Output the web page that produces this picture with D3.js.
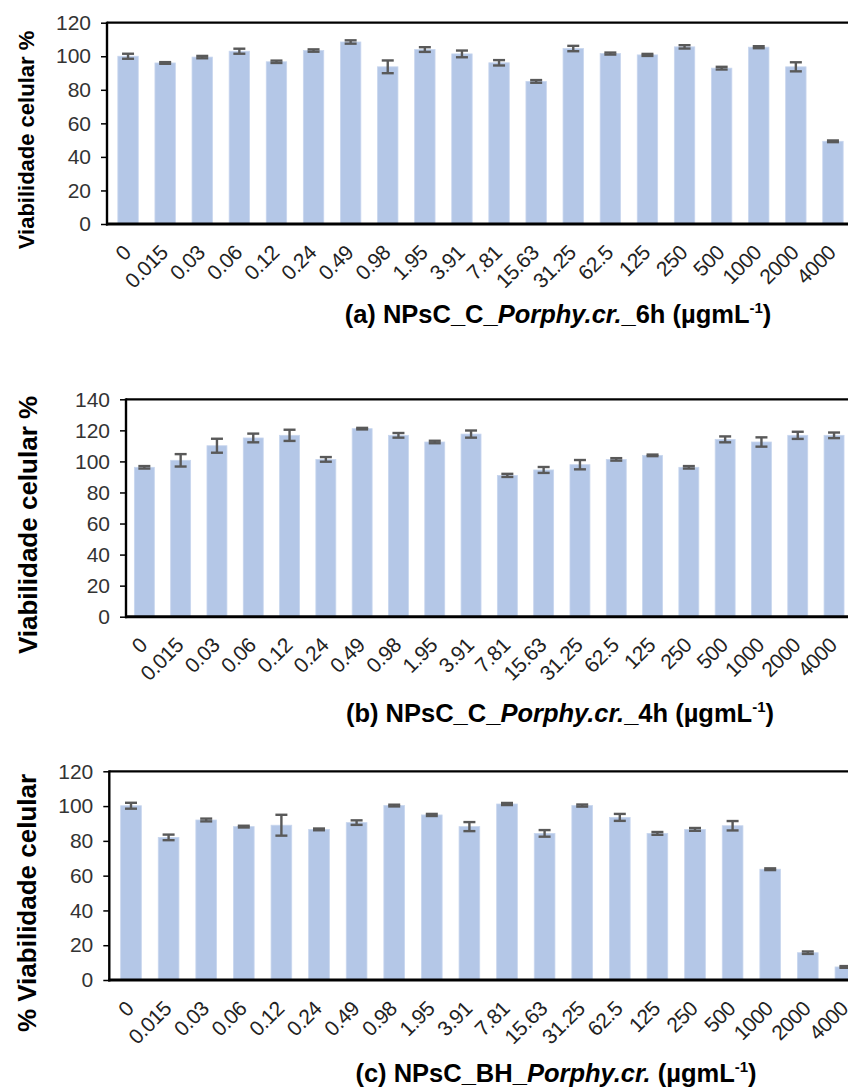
<!DOCTYPE html>
<html>
<head>
<meta charset="utf-8">
<script src="https://cdn.jsdelivr.net/npm/d3@7"></script>
<style>
  html, body { margin: 0; padding: 0; background: #fff; }
  svg { display: block; font-family: Arial, "Liberation Sans", sans-serif; }
</style>
</head>
<body>
<svg id="chart" width="848" height="1088"></svg>
<script>
// Concentrations tested (µg/mL)
const categories = ["0","0.015","0.03","0.06","0.12","0.24","0.49","0.98","1.95","3.91",
                    "7.81","15.63","31.25","62.5","125","250","500","1000","2000","4000"];

// (a) NPsC_C_Porphy.cr. – 6 h
const valuesA = [100, 96, 99.5, 103, 96.7, 103.4, 108.5, 93.7, 104, 101.4,
                 96.1, 85, 104.6, 101.6, 100.8, 105.6, 92.9, 105.4, 93.7, 49.3];
const errorsA = [1.5, 0.5, 0.7, 1.5, 0.7, 0.7, 1.0, 3.8, 1.4, 2.0,
                 1.6, 0.8, 1.6, 0.6, 0.6, 1.0, 0.8, 0.6, 2.7, 0.5];
const ticksA = [0, 20, 40, 60, 80, 100, 120];

// (b) NPsC_C_Porphy.cr. – 4 h
const valuesB = [96.2, 100.7, 110.1, 115.1, 116.8, 101.3, 121.1, 116.8, 112.5, 117.6,
                 91, 94.5, 97.9, 101.3, 103.9, 96.2, 114.2, 112.5, 116.8, 116.8];
const errorsB = [0.8, 4, 4.5, 2.8, 3.6, 1.5, 0.5, 1.5, 0.8, 2.3,
                 1.0, 1.9, 3.0, 0.8, 0.5, 0.8, 1.9, 3.0, 2.3, 1.8];
const ticksB = [0, 20, 40, 60, 80, 100, 120, 140];

// (c) NPsC_BH_Porphy.cr.
const valuesC = [100.2, 82, 92, 88.2, 89, 86.6, 90.5, 100.3, 94.9, 88.2,
                 101.2, 84.3, 100.3, 93.5, 84.3, 86.6, 88.7, 63.7, 15.7, 7.5];
const errorsC = [1.7, 1.6, 0.8, 0.5, 6, 0.5, 1.3, 0.5, 0.6, 2.6,
                 0.6, 1.9, 0.6, 2.0, 0.8, 0.8, 2.7, 0.5, 0.7, 0.5];
const ticksC = [0, 20, 40, 60, 80, 100, 120];

const svg = d3.select("#chart");

const panels = [
  { values: valuesA, errors: errorsA, ticks: ticksA, yMax: 120,
    axisX: 107, bandStart: 109.5, bandEnd: 851.5, top: 22.7, bottom: 224,
    yTitle: "Viabilidade celular %", yTitleX: 34, yTitleY: 140, yTitleSize: 22,
    prefix: "(a) NPsC_C_", suffix: "_6h (µgmL", titleX: 558, titleY: 323 },
  { values: valuesB, errors: errorsB, ticks: ticksB, yMax: 140,
    axisX: 126, bandStart: 126.2, bandEnd: 852.2, top: 399.3, bottom: 616.7,
    yTitle: "Viabilidade celular %", yTitleX: 37, yTitleY: 525, yTitleSize: 26,
    prefix: "(b) NPsC_C_", suffix: "_4h (µgmL", titleX: 560, titleY: 722 },
  { values: valuesC, errors: errorsC, ticks: ticksC, yMax: 120,
    axisX: 109.3, bandStart: 112.2, bandEnd: 864.2, top: 771.3, bottom: 980,
    yTitle: "% Viabilidade celular", yTitleX: 36, yTitleY: 903, yTitleSize: 26,
    prefix: "(c) NPsC_BH_", suffix: " (µgmL", titleX: 556, titleY: 1082 }
];

panels.forEach(p => {
  const g = svg.append("g");

  const x = d3.scaleBand()
    .domain(categories)
    .range([p.bandStart, p.bandEnd])
    .paddingInner(0.45)
    .paddingOuter(0.225);

  const y = d3.scaleLinear()
    .domain([0, p.yMax])
    .range([p.bottom, p.top]);

  // Bars
  g.append("g").selectAll("rect")
    .data(p.values)
    .join("rect")
    .attr("x", (d, i) => x(categories[i]))
    .attr("width", x.bandwidth())
    .attr("y", d => y(d))
    .attr("height", d => y(0) - y(d))
    .attr("fill", "#b4c7e7")
    .attr("stroke", "#c8d6ee")
    .attr("stroke-width", 0.8);

  // Error bars (± deviation) with caps
  const eb = g.append("g")
    .attr("stroke", "#595959")
    .attr("stroke-width", 2.4)
    .attr("fill", "none");
  const cap = 6;
  p.values.forEach((v, i) => {
    const cx = x(categories[i]) + x.bandwidth() / 2;
    const lo = y(v - p.errors[i]);
    const hi = y(v + p.errors[i]);
    eb.append("line").attr("x1", cx).attr("x2", cx).attr("y1", lo).attr("y2", hi);
    eb.append("line").attr("x1", cx - cap).attr("x2", cx + cap).attr("y1", lo).attr("y2", lo);
    eb.append("line").attr("x1", cx - cap).attr("x2", cx + cap).attr("y1", hi).attr("y2", hi);
  });

  // Y axis
  const yAxis = d3.axisLeft(y)
    .tickValues(p.ticks)
    .tickSize(6)
    .tickPadding(10)
    .tickFormat(d3.format("d"));
  const ya = g.append("g")
    .attr("transform", `translate(${p.axisX},0)`)
    .call(yAxis);
  ya.select(".domain").remove();
  ya.selectAll(".tick line").attr("stroke", "#000").attr("stroke-width", 1.5);
  ya.selectAll(".tick text")
    .attr("fill", "#333")
    .style("font-size", "21px")
    .style("font-family", "Arial, 'Liberation Sans', sans-serif");

  // Plot frame: top border, left axis
  g.append("line")
    .attr("x1", p.axisX).attr("x2", 900)
    .attr("y1", p.top).attr("y2", p.top)
    .attr("stroke", "#000").attr("stroke-width", 2.2);
  g.append("line")
    .attr("x1", p.axisX).attr("x2", p.axisX)
    .attr("y1", p.top - 1).attr("y2", p.bottom + 1.5)
    .attr("stroke", "#000").attr("stroke-width", 2.4);

  // X axis with rotated category labels
  const xAxis = d3.axisBottom(x).tickSize(0).tickPadding(0);
  const xa = g.append("g")
    .attr("transform", `translate(0,${p.bottom})`)
    .call(xAxis);
  xa.select(".domain").remove();
  xa.selectAll(".tick text")
    .attr("fill", "#222")
    .attr("text-anchor", "end")
    .attr("dy", null)
    .attr("y", 0)
    .attr("transform", "translate(4,30) rotate(-45)")
    .style("font-size", "21px")
    .style("letter-spacing", "-0.5px")
    .style("font-family", "Arial, 'Liberation Sans', sans-serif");
  g.append("line")
    .attr("x1", p.axisX - 1).attr("x2", 900)
    .attr("y1", p.bottom).attr("y2", p.bottom)
    .attr("stroke", "#000").attr("stroke-width", 3);

  // Y-axis title
  g.append("text")
    .attr("transform", `translate(${p.yTitleX},${p.yTitleY}) rotate(-90)`)
    .attr("text-anchor", "middle")
    .attr("font-weight", "bold")
    .attr("font-size", p.yTitleSize)
    .attr("fill", "#000")
    .text(p.yTitle);

  // Panel caption under the axis
  const t = g.append("text")
    .attr("x", p.titleX)
    .attr("y", p.titleY)
    .attr("text-anchor", "middle")
    .attr("font-weight", "bold")
    .attr("font-size", 25.5)
    .attr("fill", "#000");
  t.append("tspan").text(p.prefix);
  t.append("tspan").attr("font-style", "italic").text("Porphy.cr.");
  t.append("tspan").text(p.suffix);
  t.append("tspan").attr("font-size", 15).attr("baseline-shift", "65%").text("-1");
  t.append("tspan").text(")");
});
</script>
</body>
</html>
